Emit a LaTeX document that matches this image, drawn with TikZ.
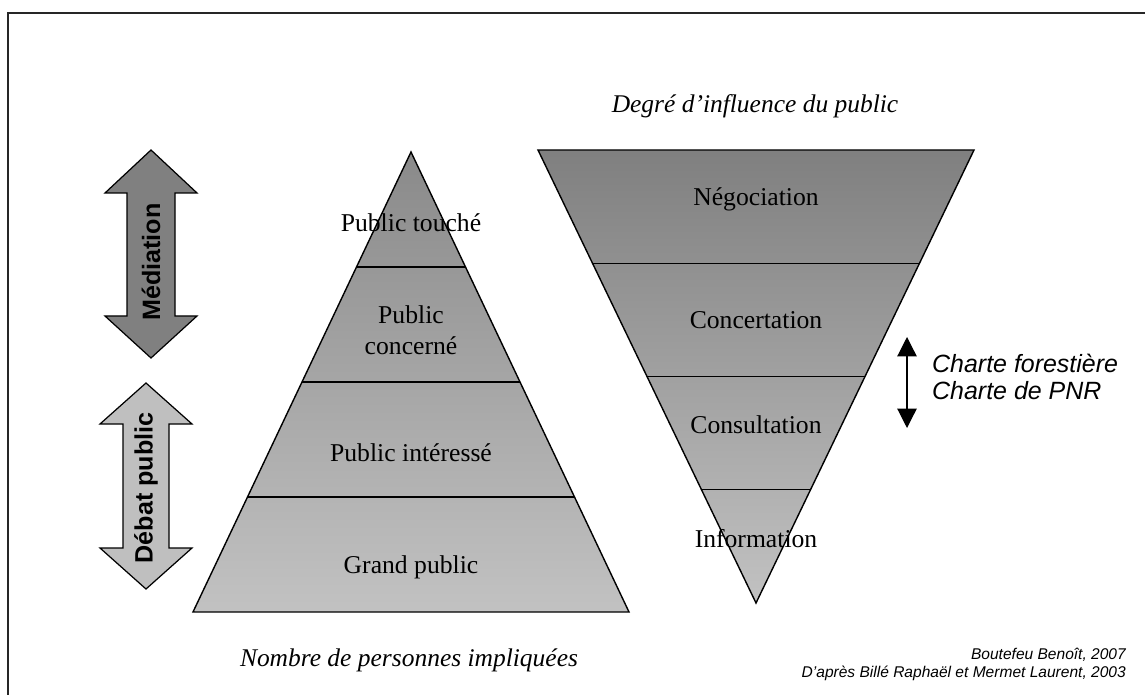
\documentclass[tikz,border=0pt]{standalone}
\usepackage{fontspec}
\setmainfont{Liberation Serif}
\setsansfont{Liberation Sans}
\usetikzlibrary{arrows.meta, calc}

\begin{document}
\begin{tikzpicture}[
    x=0.02cm, y=-0.02cm,
    frame/.style={draw=black!85, line width=1.2pt},
    level/.style={draw, line width=0.8pt},
    divider/.style={draw, line width=0.8pt},
    stage/.style={font=\fontsize{14.6}{17.5}\selectfont, align=center},
    caption/.style={font=\fontsize{14.5}{17}\selectfont\itshape},
    bigarrow/.style={draw, line width=0.7pt},
    arrowlbl/.style={font=\fontsize{14.3}{17}\selectfont\sffamily\bfseries, rotate=90},
    note/.style={font=\fontsize{14.2}{15.5}\selectfont\sffamily\itshape, align=left, anchor=west},
    credit/.style={font=\fontsize{8.85}{10.2}\selectfont\sffamily\itshape, align=right, anchor=east}
]

    % Cadre
    \useasboundingbox (0,0) rectangle (1145,695);
    \clip (0,0) rectangle (1145,695);
    \draw[frame] (8,13) rectangle (1200,750);

    % Fleches de gauche
    \draw[bigarrow, fill=black!50] (151,150) -- ++(46,43) -- ++(-22,0) -- ++(0,123) -- ++(22,0)
        -- ++(-46,42) -- ++(-46,-42) -- ++(22,0) -- ++(0,-123) -- ++(-22,0) -- cycle;
    \node[arrowlbl] (mediation) at (151,262) {Médiation};

    \draw[bigarrow, fill=black!25] (146,383) -- ++(46,41) -- ++(-23,0) -- ++(0,124) -- ++(23,0)
        -- ++(-46,41) -- ++(-46,-41) -- ++(23,0) -- ++(0,-124) -- ++(-23,0) -- cycle;
    \node[arrowlbl] (debat) at (146,488) {Débat public};

    % Pyramide des publics
    \coordinate (pyr-apex) at (411,152);
    \coordinate (pyr-left) at (193,612);
    \coordinate (pyr-right) at (629,612);
    \shadedraw[level, top color=black!46, bottom color=black!24] (pyr-apex) -- (pyr-right) -- (pyr-left) -- cycle;
    \foreach \t in {0.25,0.5,0.75}
        \draw[divider] ($(pyr-apex)!\t!(pyr-left)$) -- ($(pyr-apex)!\t!(pyr-right)$);

    \node[stage] (touche) at (411,223) {Public touché};
    \node[stage] (concerne) at (411,330) {Public\\concerné};
    \node[stage] (interesse) at (411,453) {Public intéressé};
    \node[stage] (grand) at (411,567) {Grand public};

    % Pyramide inversee de l'influence
    \coordinate (inv-left) at (538,150);
    \coordinate (inv-right) at (974,150);
    \coordinate (inv-apex) at (756,603);
    \shadedraw[level, top color=black!50, bottom color=black!24] (inv-left) -- (inv-right) -- (inv-apex) -- cycle;
    \foreach \t in {0.25,0.5,0.75}
        \draw[divider] ($(inv-left)!\t!(inv-apex)$) -- ($(inv-right)!\t!(inv-apex)$);

    \node[stage] (nego) at (756,199) {Négociation};
    \node[stage] (concert) at (756,320) {Concertation};
    \node[stage] (consult) at (756,425) {Consultation};
    \node[stage] (info) at (756,539) {Information};

    % Chartes
    \coordinate (charte-top) at (907,337);
    \coordinate (charte-bot) at (907,428);
    \draw[{Triangle[width=11pt,length=11pt]}-{Triangle[width=11pt,length=11pt]}, line width=0.7pt] (charte-top) -- (charte-bot);
    \node[note] (chartes) at (926,377) {Charte forestière\\Charte de PNR};

    % Legendes
    \node[caption] (influence) at (755,106) {Degré d’influence du public};
    \node[caption] (nombre) at (409,660) {Nombre de personnes impliquées};
    \node[credit] (source) at (1132,664) {Boutefeu Benoît, 2007\\D’après Billé Raphaël et Mermet Laurent, 2003};

\end{tikzpicture}
\end{document}
